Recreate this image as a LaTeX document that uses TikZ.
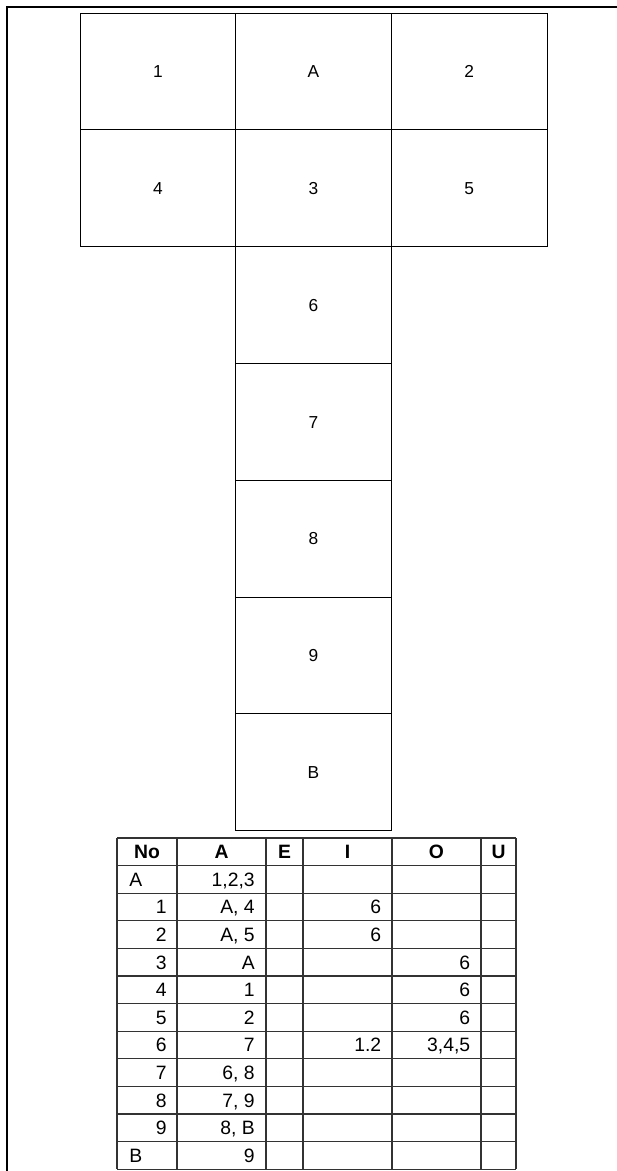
\documentclass[tikz,border=0pt]{standalone}
\usepackage{fontspec}
\setmainfont{Liberation Sans}
\usetikzlibrary{positioning}

\begin{document}
\begin{tikzpicture}[x=0.75pt, y=-0.75pt,
        cell/.style={draw, line width=0.75pt, minimum width=116.75pt, minimum height=87.6pt, inner sep=0pt, outer sep=0pt,
            font=\fontsize{13}{15}\selectfont, text height=9.3pt, text depth=0pt},
        tline/.style={draw=black!80, line width=0.8pt},
        thead/.style={font=\bfseries\fontsize{14.5}{16}\selectfont, inner sep=0pt, text height=10.4pt, text depth=0pt},
        tval/.style={font=\fontsize{14.5}{16}\selectfont, inner sep=0pt, text height=10.4pt, text depth=0pt},
        frame/.style={line width=1.5pt}
    ]
        \useasboundingbox (0,0) rectangle (617,1171);

        % Page edge
        \coordinate (fb) at (7,1171);
        \coordinate (fc) at (7,7);
        \coordinate (fr) at (617,7);
        \draw[frame] (fb) -- (fc) -- (fr);

        % Cross of rooms
        \node[cell, anchor=north west] (c1) at (80,13) {1};
        \node[cell, right=0pt of c1] (cA) {A};
        \node[cell, right=0pt of cA] (c2) {2};
        \node[cell, below=0pt of c1] (c4) {4};
        \node[cell, below=0pt of cA] (c3) {3};
        \node[cell, below=0pt of c2] (c5) {5};
        \node[cell, below=0pt of c3] (c6) {6};
        \node[cell, below=0pt of c6] (c7) {7};
        \node[cell, below=0pt of c7] (c8) {8};
        \node[cell, below=0pt of c8] (c9) {9};
        \node[cell, below=0pt of c9] (cB) {B};

        % Table rules
        \foreach \x in {117,177,266,303,392,481,516}
            \draw[tline] (\x,838) -- (\x,1169.2);
        \foreach \k in {0,...,12}
            \draw[tline] (117,{838+27.6*\k}) -- (516,{838+27.6*\k});

        % Table head
        \foreach \t/\cx [count=\i] in {No/147, A/221.5, E/284.5, I/347.5, O/436.5, U/498.5}
            \node[thead] (h\i) at (\cx,851.8) {\t};

        % Table rows
        \foreach \nx/\na/\n/\a/\ii/\o [count=\r] in {
                129/west/A/{1,2,3}//,
                167/east/1/{A, 4}/6/,
                167/east/2/{A, 5}/6/,
                167/east/3/A//6,
                167/east/4/1//6,
                167/east/5/2//6,
                167/east/6/7/1.2/{3,4,5},
                167/east/7/{6, 8}//,
                167/east/8/{7, 9}//,
                167/east/9/{8, B}//,
                129/west/B/9//}
        {
            \node[tval, anchor=\na] (n\r) at (\nx,{838+27.6*(\r+0.5)}) {\n};
            \node[tval, anchor=east] (a\r) at (255,{838+27.6*(\r+0.5)}) {\a};
            \node[tval, anchor=east] (i\r) at (381.5,{838+27.6*(\r+0.5)}) {\ii};
            \node[tval, anchor=east] (o\r) at (470.5,{838+27.6*(\r+0.5)}) {\o};
        }
\end{tikzpicture}
\end{document}
